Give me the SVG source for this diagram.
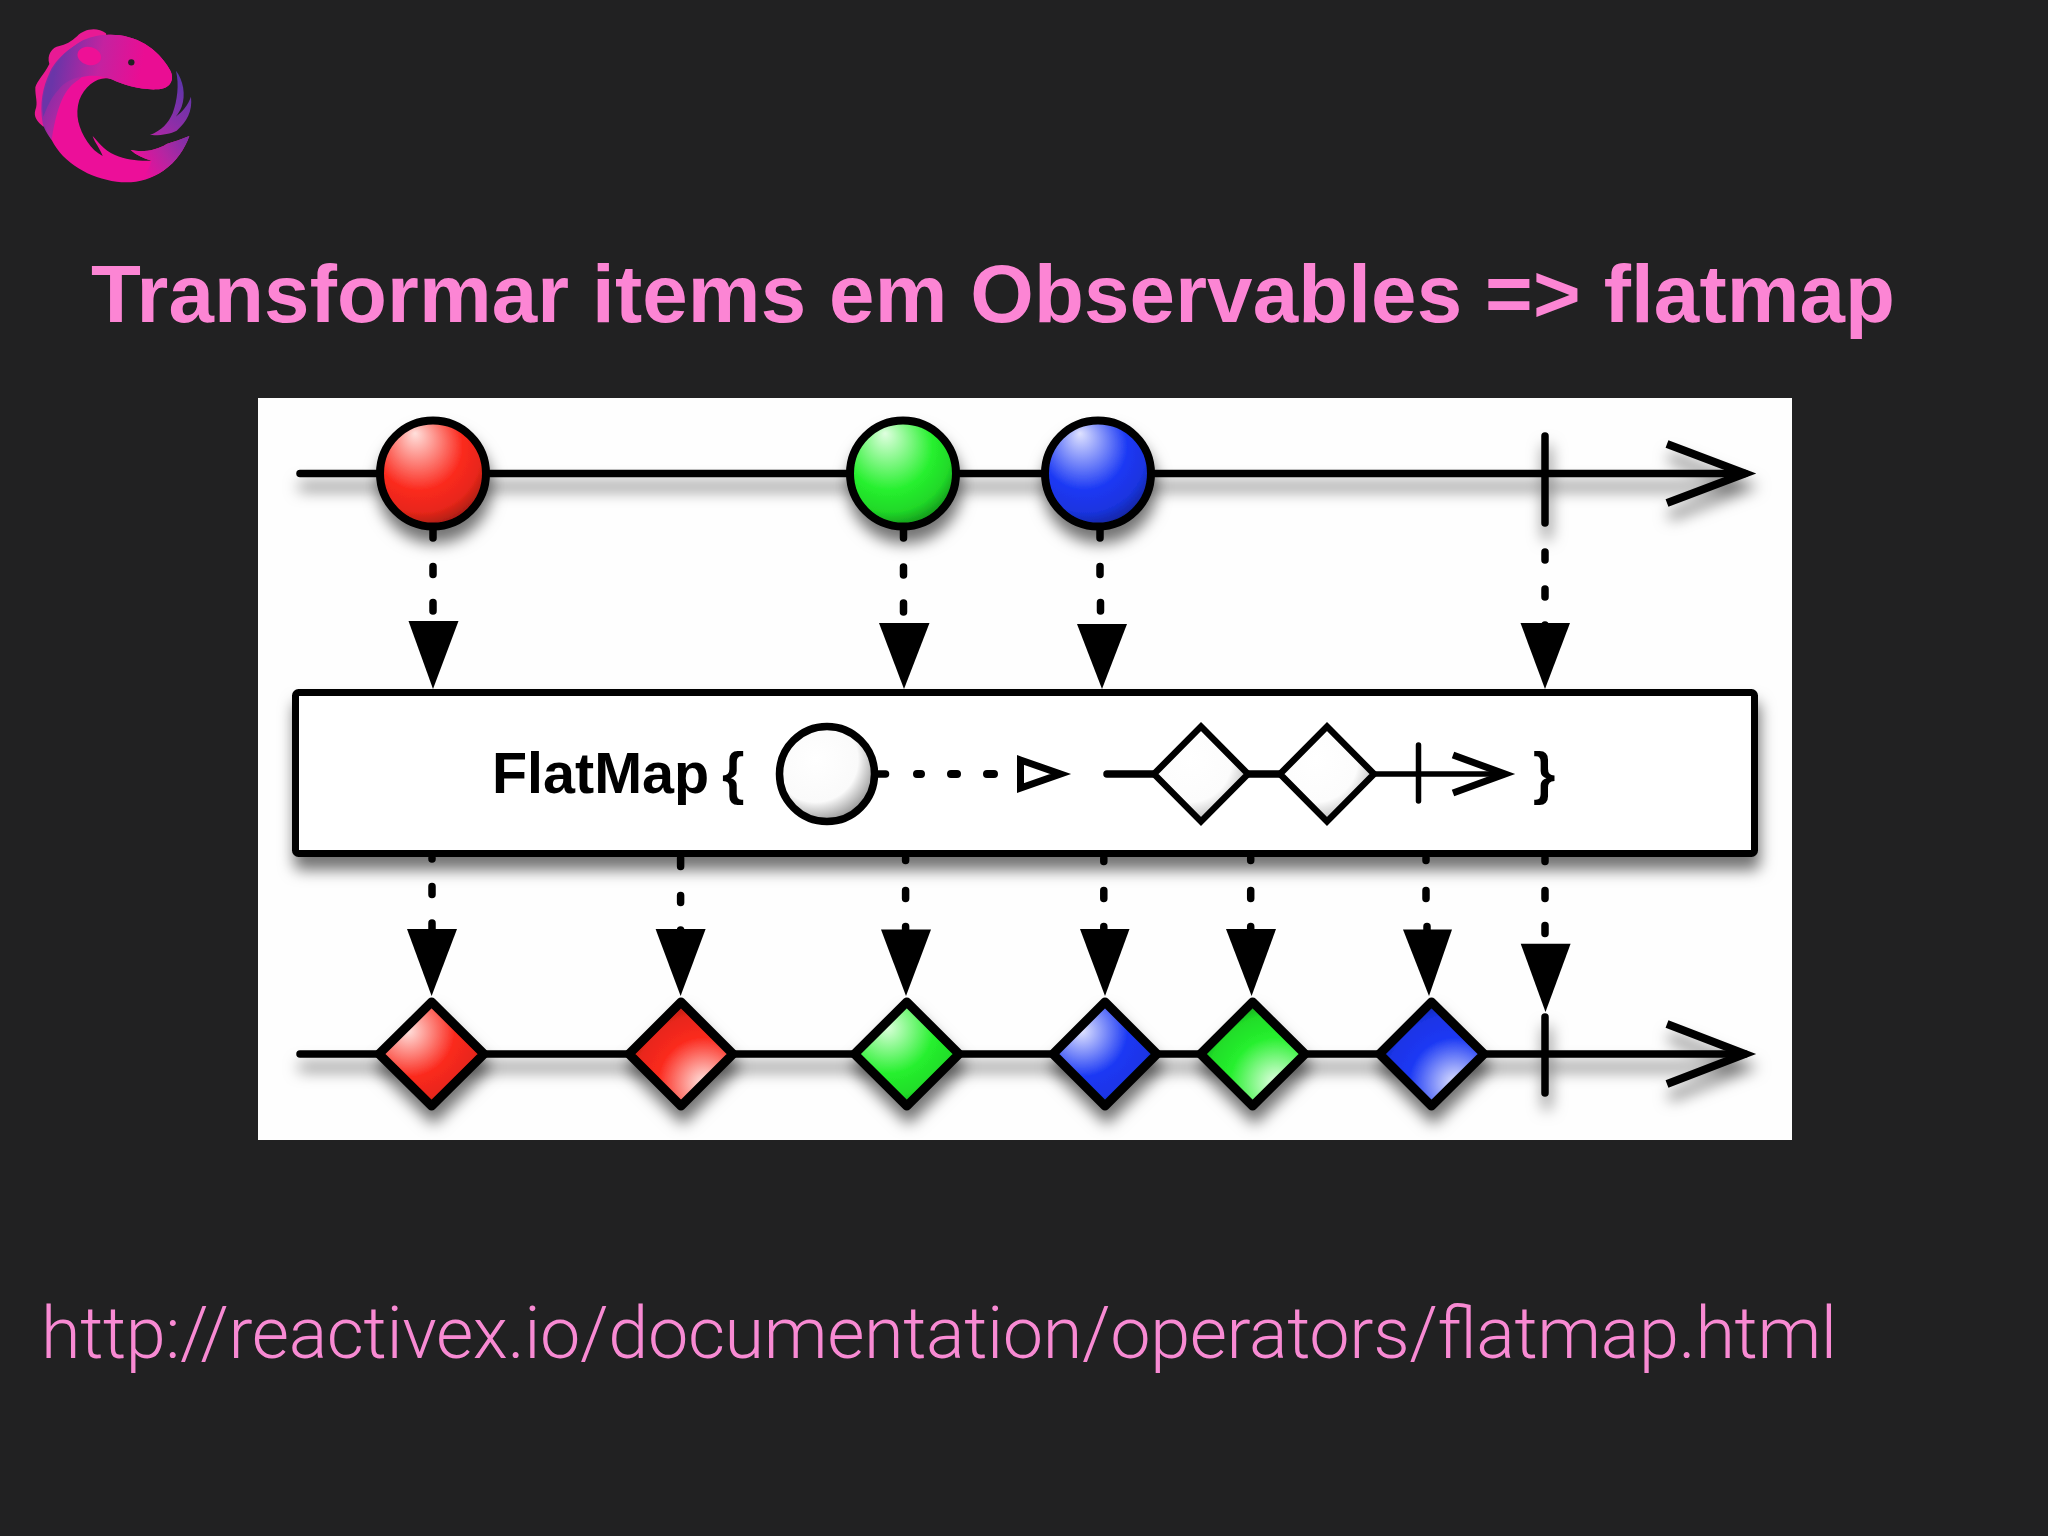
<svg xmlns="http://www.w3.org/2000/svg" width="2048" height="1536" viewBox="0 0 2048 1536">
<style>
.shadow{filter:url(#ds)}
.ln{fill:none;stroke:#000;stroke-width:7.5;stroke-linecap:round}
.thin{stroke-width:5.5}
.dash{fill:none;stroke:#000;stroke-width:7.5;stroke-linecap:round}
.open{fill:none;stroke:#000;stroke-width:8;stroke-linecap:butt;stroke-linejoin:miter;stroke-miterlimit:8}
.head{fill:#000}
.nd{stroke:#000;stroke-linejoin:miter}
.ndb{stroke:#000;stroke-width:9;stroke-linejoin:round}
.title{font-family:"Liberation Sans",Arial,sans-serif;font-weight:700;font-size:81.7px;fill:#fc85d4}
.url{font-family:Roboto,"Liberation Sans",sans-serif;font-weight:300;font-size:72px;fill:#f88ad3}
.lab{font-family:"Liberation Sans",Arial,sans-serif;font-weight:700;font-size:57.500px;fill:#000}
</style>
<defs>
<filter id="ds" filterUnits="userSpaceOnUse" x="0" y="0" width="2048" height="1536">
<feDropShadow dx="2" dy="13" stdDeviation="7.500" flood-color="#000" flood-opacity="0.55"/>
</filter>
<radialGradient id="cr" cx=".4" cy=".35" r=".75" fx=".33" fy=".12"><stop offset="0" stop-color="#ffe0dc"/><stop offset=".55" stop-color="#fb2a1e"/><stop offset=".76" stop-color="#e8261a"/><stop offset="1" stop-color="#7a170e"/></radialGradient>
<radialGradient id="cg" cx=".4" cy=".35" r=".75" fx=".33" fy=".12"><stop offset="0" stop-color="#e0ffe0"/><stop offset=".55" stop-color="#26f02e"/><stop offset=".76" stop-color="#20d828"/><stop offset="1" stop-color="#0c6c12"/></radialGradient>
<radialGradient id="cb" cx=".4" cy=".35" r=".75" fx=".33" fy=".12"><stop offset="0" stop-color="#dfe2ff"/><stop offset=".55" stop-color="#1a38f4"/><stop offset=".76" stop-color="#1a34e0"/><stop offset="1" stop-color="#0a1c78"/></radialGradient>
<radialGradient id="dra" cx=".28" cy=".28" r=".88"><stop offset="0" stop-color="#ffe0dc"/><stop offset=".5" stop-color="#fb2a1e"/><stop offset=".75" stop-color="#e8261a"/><stop offset="1" stop-color="#8a1a10"/></radialGradient>
<radialGradient id="drb" cx=".72" cy=".78" r=".88"><stop offset="0" stop-color="#ffe6e2"/><stop offset=".5" stop-color="#fb2a1e"/><stop offset=".75" stop-color="#e8261a"/><stop offset="1" stop-color="#8a1a10"/></radialGradient>
<radialGradient id="dga" cx=".32" cy=".25" r=".88"><stop offset="0" stop-color="#d8ffd8"/><stop offset=".5" stop-color="#26f02e"/><stop offset=".75" stop-color="#20dc28"/><stop offset="1" stop-color="#0e7a14"/></radialGradient>
<radialGradient id="dgb" cx=".72" cy=".78" r=".88"><stop offset="0" stop-color="#e4ffe4"/><stop offset=".5" stop-color="#26f02e"/><stop offset=".75" stop-color="#20dc28"/><stop offset="1" stop-color="#0e7a14"/></radialGradient>
<radialGradient id="dba" cx=".28" cy=".28" r=".88"><stop offset="0" stop-color="#dfe2ff"/><stop offset=".5" stop-color="#1a38f4"/><stop offset=".75" stop-color="#1a34e6"/><stop offset="1" stop-color="#0b1f86"/></radialGradient>
<radialGradient id="dbb" cx=".72" cy=".78" r=".88"><stop offset="0" stop-color="#dfe2ff"/><stop offset=".5" stop-color="#1a38f4"/><stop offset=".75" stop-color="#1a34e6"/><stop offset="1" stop-color="#0b1f86"/></radialGradient>
<radialGradient id="cw" cx=".38" cy=".35" r=".72"><stop offset="0" stop-color="#fff"/><stop offset=".62" stop-color="#fafafa"/><stop offset="1" stop-color="#808080"/></radialGradient>
<radialGradient id="dw" cx=".38" cy=".35" r=".72"><stop offset="0" stop-color="#fff"/><stop offset=".62" stop-color="#fcfcfc"/><stop offset="1" stop-color="#a8a8a8"/></radialGradient>
<linearGradient id="lb" gradientUnits="userSpaceOnUse" x1="120" y1="200" x2="340" y2="300"><stop offset="0" stop-color="#5a35a9"/><stop offset=".45" stop-color="#a72aa4"/><stop offset="1" stop-color="#ec0f99"/></linearGradient>
<linearGradient id="lh" gradientUnits="userSpaceOnUse" x1="180" y1="130" x2="430" y2="180"><stop offset="0" stop-color="#6a35a8"/><stop offset=".5" stop-color="#c422a0"/><stop offset="1" stop-color="#ea0d93"/></linearGradient>
<linearGradient id="lf" gradientUnits="userSpaceOnUse" x1="560" y1="240" x2="440" y2="410"><stop offset="0" stop-color="#5a35a9"/><stop offset=".6" stop-color="#8a2fa8"/><stop offset="1" stop-color="#b426a4"/></linearGradient>
<linearGradient id="lt" gradientUnits="userSpaceOnUse" x1="565" y1="410" x2="420" y2="500"><stop offset="0" stop-color="#7a31a8"/><stop offset=".5" stop-color="#b326a2"/><stop offset="1" stop-color="#ea0f9a"/></linearGradient>
</defs>
<rect id="background" width="2048" height="1536" fill="#212122"/>
<g id="logo" transform="scale(.3333)">
<path fill="#e81a94" d="M232 108C250 88 290 78 318 100L330 160L130 380C112 365 100 350 106 330C115 310 105 290 106 262C112 240 132 225 148 192C140 165 155 142 178 138C195 135 215 125 232 108Z"/>
<path fill="#ec0f99" d="M318 105C400 100 470 140 510 210C528 244 505 268 470 268C420 270 370 255 335 238C300 225 255 255 238 300C224 345 236 385 262 425C275 445 290 458 308 468C300 445 285 430 278 408C295 425 310 450 345 465C380 480 420 484 455 482C430 475 408 465 392 450C425 458 470 452 500 432C520 425 545 418 568 408C555 445 530 485 490 512C450 540 400 552 350 545C270 535 190 490 155 420C125 370 120 320 135 270C150 220 190 160 250 125C270 115 295 108 318 105Z"/>
<path fill="url(#lb)" d="M128 370C118 310 128 262 150 215C175 165 240 112 318 105L330 200C300 205 260 215 235 240C205 260 175 290 155 420C140 400 132 385 128 370Z" opacity=".95"/>
<path fill="url(#lh)" d="M250 120C280 108 300 105 318 105C400 100 470 140 510 210C528 244 505 268 470 268C420 270 370 255 335 238C300 225 270 225 240 232C215 235 190 250 175 270C160 285 145 310 130 350C122 300 135 260 150 225C170 180 205 145 250 120Z"/>
<ellipse cx="268" cy="168" rx="36" ry="27" fill="#ee1096" transform="rotate(15 268 168)"/>
<circle cx="394" cy="187" r="9.500" fill="#212122"/>
<path fill="url(#lf)" d="M528 212C550 240 558 285 545 320C540 332 534 342 527 350C548 335 564 315 573 290C578 335 560 365 530 392C510 402 480 407 450 405C485 392 505 370 518 340C532 300 538 255 528 212Z"/>
<path fill="url(#lt)" d="M392 450C425 458 470 452 500 432C520 425 545 418 568 408C555 445 530 485 490 512C470 525 445 535 420 540C445 515 450 495 455 482C430 475 408 465 392 450Z"/>
</g>
<text id="title" class="title" x="91" y="321.700" textLength="1804" lengthAdjust="spacing">Transformar items em Observables =&gt; flatmap</text>
<rect id="panel" x="258" y="398" width="1534" height="742" fill="#fefefe"/>
<g id="connectors">
<g class="shadow">
<path class="ln" d="M300 473.500H1745"/>
<path class="ln" d="M1545 436V523"/>
<polyline class="open" points="1667,444 1745,473.500 1667,503"/>
</g>
<g class="shadow">
<path class="ln" d="M300 1054H1745"/>
<path class="ln" d="M1545 1017V1093"/>
<polyline class="open" points="1667,1024 1745,1054 1667,1084"/>
</g>
<g>
<path class="dash" d="M433 525V538M433 566.500V574.500M433 602.500V611"/>
<polygon class="head" points="408.500,621 458.500,621 433,689"/>
<path class="dash" d="M903.500 525V538M903.500 567V575M903.500 603V612"/>
<polygon class="head" points="879,623 929.500,623 904,689"/>
<path class="dash" d="M1100 525V538M1100 566.500V574.500M1100.500 602.500V611"/>
<polygon class="head" points="1077,624 1127,624 1102,689"/>
<path class="dash" d="M1545 552V560M1545 589V597M1545 625V630"/>
<polygon class="head" points="1520.500,623 1570,623 1545,689"/>
</g>
</g>
<g id="flatmap-box">
<rect class="shadow" x="295.500" y="692.500" width="1459" height="161" rx="3" fill="#fff" stroke="#000" stroke-width="7" stroke-linejoin="round"/>
<text class="lab" x="492" y="793">FlatMap</text>
<text class="lab" x="722" y="793">{</text>
<text class="lab" x="1533" y="793">}</text>
<g id="inner-diagram">
<path class="ln" d="M878 774H885.500" stroke-width="8"/>
<path fill="none" stroke="#000" stroke-width="8" stroke-linecap="round" d="M917 774H921M951 774H957M987 774H994"/>
<polygon points="1020.500,760 1060.500,774 1020.500,788" fill="#fff" stroke="#000" stroke-width="7" stroke-linejoin="miter"/>
<path class="ln" d="M1107 774H1156M1246 774H1281"/>
<path class="ln thin" d="M1372 774H1503M1418.500 745V801"/>
<polyline fill="none" stroke="#000" stroke-width="7" stroke-miterlimit="8" points="1453,755 1505,774 1453,793"/>
<circle id="white-source" cx="827" cy="774" r="47.500" fill="url(#cw)" stroke="#000" stroke-width="7.500"/>
<polygon id="white-d1" class="nd" points="1201,726.500 1248,774 1201,821.500 1154,774" fill="url(#dw)" stroke-width="6.500"/>
<polygon id="white-d2" class="nd" points="1327,726.500 1374,774 1327,821.500 1280,774" fill="url(#dw)" stroke-width="6.500"/>
</g>
</g>
<g id="output-dashes">
<path class="dash" d="M432 858V859M432 886.500V894.500M432 923V930"/>
<polygon class="head" points="407,929 457,929 431.600,996"/>
<path class="dash" d="M680.600 858V866.500M680.600 895.500V902.500M680.600 930V932"/>
<polygon class="head" points="655.600,929 705.600,929 680.600,996"/>
<path class="dash" d="M905.600 858V860.500M905.600 890.500V898.500M905.600 926.500V932"/>
<polygon class="head" points="881,929.500 931,929.500 906,996"/>
<path class="dash" d="M1103.800 858V861.500M1103.800 890.500V898.500M1103.800 926.500V932"/>
<polygon class="head" points="1080,929 1129.500,929 1105,996"/>
<path class="dash" d="M1250.700 858V860.500M1250.700 890.500V898.500M1250.700 926.500V932"/>
<polygon class="head" points="1226,929 1276,929 1251.600,996"/>
<path class="dash" d="M1426 858V860.500M1426 890.500V898.500M1427 926.500V932"/>
<polygon class="head" points="1403,929.500 1452,929.500 1429,996"/>
<path class="dash" d="M1545 858V861.500M1545 890.500V898.500M1545 925.500V933.500"/>
<polygon class="head" points="1520.700,943.700 1570.600,943.700 1545.500,1012"/>
</g>
<g id="circle-red" class="shadow"><circle cx="433" cy="473.500" r="53" fill="url(#cr)" stroke="#000" stroke-width="8"/></g>
<g id="circle-green" class="shadow"><circle cx="903" cy="473.500" r="53" fill="url(#cg)" stroke="#000" stroke-width="8"/></g>
<g id="circle-blue" class="shadow"><circle cx="1098" cy="473.500" r="53" fill="url(#cb)" stroke="#000" stroke-width="8"/></g>
<g id="diamond-red-1" class="shadow"><polygon class="ndb" points="431.600,1002 484,1054 431.600,1106 379,1054" fill="url(#dra)"/></g>
<g id="diamond-red-2" class="shadow"><polygon class="ndb" points="681,1002 733,1054 681,1106 629,1054" fill="url(#drb)"/></g>
<g id="diamond-green-1" class="shadow"><polygon class="ndb" points="906.800,1002 959,1054 906.800,1106 854.500,1054" fill="url(#dga)"/></g>
<g id="diamond-blue-1" class="shadow"><polygon class="ndb" points="1105,1002 1157,1054 1105,1106 1053,1054" fill="url(#dba)"/></g>
<g id="diamond-green-2" class="shadow"><polygon class="ndb" points="1252.600,1002 1305,1054 1252.600,1106 1200.500,1054" fill="url(#dgb)"/></g>
<g id="diamond-blue-2" class="shadow"><polygon class="ndb" points="1431.500,1002 1484,1054 1431.500,1106 1379.500,1054" fill="url(#dbb)"/></g>
<text id="url" class="url" x="41" y="1358" textLength="1796" lengthAdjust="spacing">http://reactivex.io/documentation/operators/flatmap.html</text>
</svg>
